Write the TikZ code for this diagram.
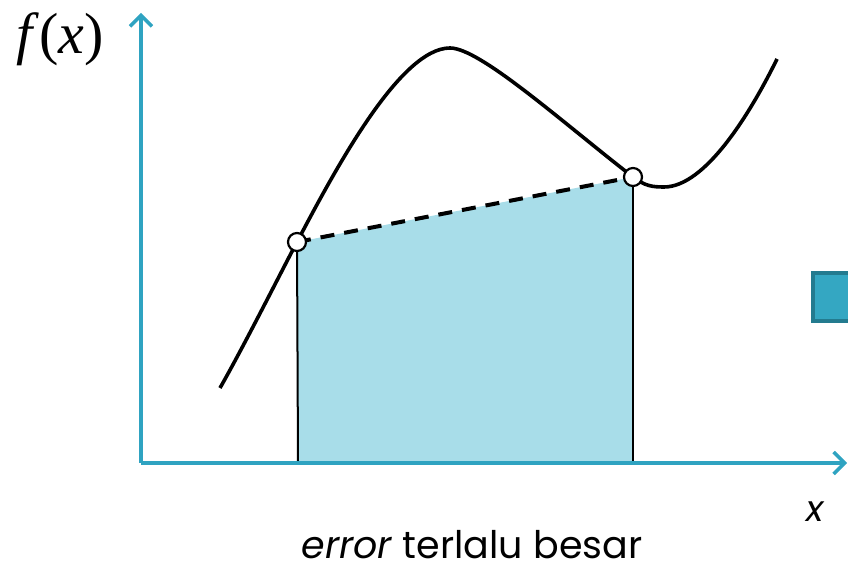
\documentclass[tikz,border=0pt]{standalone}
\usepackage{fontspec}
\setmainfont{Poppins}
\newfontfamily\serifit{Liberation Serif}
\usepackage{tikz}
\usetikzlibrary{arrows.meta}
\definecolor{axisblue}{RGB}{47,163,193}
\definecolor{areablue}{RGB}{168,221,233}
\definecolor{boxblue}{RGB}{52,167,194}
\definecolor{boxedge}{RGB}{35,123,143}
\tikzset{
  axis/.style={axisblue,line width=3.5pt,-{Straight Barb[length=11pt,width=22pt,line width=3.5pt]}},
  knot/.style={circle,draw=black,fill=white,line width=2.2pt,inner sep=0pt,minimum size=18pt},
}

\begin{document}
\begin{tikzpicture}[x=1pt,y=1pt]
  \useasboundingbox (0,0) rectangle (848,569);
  % shaded area under the chord
  \coordinate (O) at (141,106);
  \coordinate (Afoot) at (298,106);
  \coordinate (Bfoot) at (633,106);
  \coordinate (Apt) at (297,327);
  \coordinate (Bpt) at (633,392);
  \fill[areablue] (Afoot) -- (Apt) -- (Bpt) -- (Bfoot) -- cycle;
  \draw[line width=2pt] (Afoot) -- (Apt);
  \draw[line width=2pt] (Bfoot) -- (Bpt);
  % axes
  \coordinate (ytip) at (141,556);
  \coordinate (xtip) at (847,106);
  \draw[axis] (O) -- (ytip);
  \draw[axis] (O) -- (xtip);
  % function
  \coordinate (start) at (220,181);
  \coordinate (peak) at (450,521);
  \coordinate (low) at (664,382);
  \coordinate (stop) at (777,510);
  \draw[line width=3.6pt] (start) .. controls (245,225) and (280,295) .. (Apt)
    .. controls (335,399) and (400,521) .. (peak)
    .. controls (480,521) and (562,447) .. (Bpt)
    .. controls (645,383) and (652,382) .. (low)
    .. controls (705,382) and (750,455) .. (stop);
  % chord
  \draw[line width=4pt,dash pattern=on 14pt off 10pt] (Apt) -- (Bpt);
  \node[knot] (A) at (Apt) {};
  \node[knot] (B) at (Bpt) {};
  % labels
  \node (fx) at (60,530) {\fontsize{58}{62}\selectfont\serifit\textit{f}(\textit{x})};
  \node (xl) at (815,57) {\fontsize{36}{40}\selectfont\itshape x};
  \node[anchor=base,inner sep=0pt,text depth=0pt] (cap) at (472,10) {\fontsize{38}{44}\selectfont\textit{error} terlalu besar};
  % box at right edge
  \draw[fill=boxblue,draw=boxedge,line width=4pt] (813,296) rectangle (860,248);
\end{tikzpicture}
\end{document}
